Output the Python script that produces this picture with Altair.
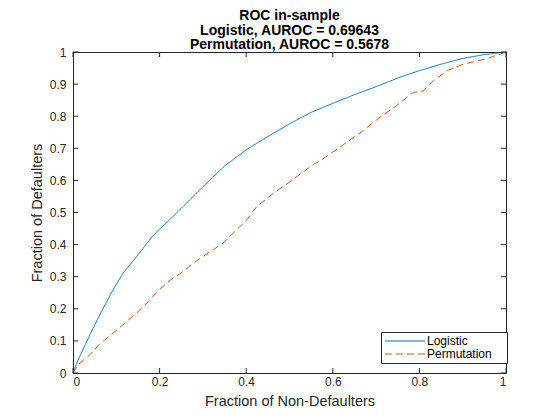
import altair as alt
import pandas as pd

# ---- data ----
series_names = ["Logistic", "Permutation"]
series_colors = ["#0072BD", "#D95319"]

logistic_x = [0, 0.01, 0.023, 0.0465, 0.07, 0.093, 0.115, 0.147, 0.186, 0.225, 0.25,
              0.3, 0.35, 0.4, 0.45, 0.5, 0.55, 0.6, 0.65, 0.7, 0.75, 0.8, 0.85, 0.9,
              0.95, 1.0]
logistic_y = [0, 0.035, 0.073, 0.14, 0.2025, 0.26, 0.31, 0.363, 0.43, 0.48, 0.513,
              0.58, 0.645, 0.695, 0.737, 0.776, 0.812, 0.84, 0.867, 0.892, 0.919, 0.942,
              0.962, 0.98, 0.992, 1.0]

perm_x = [0, 0.012, 0.039, 0.062, 0.089, 0.12, 0.147, 0.174, 0.2, 0.225, 0.248, 0.27,
          0.294, 0.324, 0.347, 0.37, 0.40, 0.424, 0.463, 0.50, 0.547, 0.578, 0.617,
          0.67, 0.709, 0.747, 0.786, 0.809, 0.832, 0.863, 0.901, 0.955, 1.0]
perm_y = [0, 0.026, 0.057, 0.091, 0.12, 0.156, 0.187, 0.223, 0.26, 0.29, 0.31, 0.333,
          0.358, 0.384, 0.405, 0.436, 0.475, 0.518, 0.56, 0.595, 0.642, 0.668, 0.704,
          0.755, 0.797, 0.833, 0.874, 0.879, 0.91, 0.941, 0.962, 0.979, 1.0]

x_ticks = [0, 0.2, 0.4, 0.6, 0.8, 1]
y_ticks = [0, 0.1, 0.2, 0.3, 0.4, 0.5, 0.6, 0.7, 0.8, 0.9, 1]

title_lines = ["ROC in-sample", "Logistic, AUROC = 0.69643", "Permutation, AUROC = 0.5678"]
x_title = "Fraction of Non-Defaulters"
y_title = "Fraction of Defaulters"

# ---- build table ----
rows = []
for i, (a, b) in enumerate(zip(logistic_x, logistic_y)):
    rows.append({"x": a, "y": b, "series": series_names[0], "i": i})
for i, (a, b) in enumerate(zip(perm_x, perm_y)):
    rows.append({"x": a, "y": b, "series": series_names[1], "i": i})
df = pd.DataFrame(rows)

W, H = 433, 321
FONT = "Liberation Sans"
AX = "#262626"
TICK = 5

x_scale = alt.Scale(domain=[0, 1], nice=False, zero=False)
y_scale = alt.Scale(domain=[0, 1], nice=False, zero=False)

x_axis = alt.Axis(values=x_ticks, format="~g", title=x_title, tickSize=0,
                  labelPadding=3, titlePadding=7, grid=False)
y_axis = alt.Axis(values=y_ticks, format="~g", title=y_title, tickSize=0,
                  labelPadding=7, titlePadding=5, grid=False)

legend_def = alt.Legend(
    title=None, orient="none", legendX=308, legendY=280,
    strokeColor=AX, fillColor="white", padding=3, cornerRadius=0,
    symbolType="M-1,0H7", symbolSize=100, symbolStrokeWidth=1,
    labelFont=FONT, labelFontSize=12, labelColor="black", labelOffset=31,
    labelExpr="datum.label + '\u2003\u200b'",
    rowPadding=1,
)

lines = alt.Chart(df).mark_line(strokeWidth=1).encode(
    x=alt.X("x:Q", scale=x_scale, axis=x_axis),
    y=alt.Y("y:Q", scale=y_scale, axis=y_axis),
    color=alt.Color("series:N", scale=alt.Scale(domain=series_names, range=series_colors),
                    legend=legend_def),
    strokeDash=alt.StrokeDash("series:N",
                              scale=alt.Scale(domain=series_names, range=[[1, 0], [7, 4]]),
                              legend=legend_def),
    order="i:Q",
)

xt = pd.DataFrame({"x": x_ticks})
yt = pd.DataFrame({"y": y_ticks})

tick_bottom = alt.Chart(xt).mark_rule(color=AX, strokeWidth=1).encode(
    x=alt.X("x:Q", scale=x_scale, axis=x_axis), y=alt.value(H), y2=alt.value(H - TICK))
tick_top = alt.Chart(xt).mark_rule(color=AX, strokeWidth=1).encode(
    x=alt.X("x:Q", scale=x_scale, axis=x_axis), y=alt.value(0), y2=alt.value(TICK))
tick_left = alt.Chart(yt).mark_rule(color=AX, strokeWidth=1).encode(
    y=alt.Y("y:Q", scale=y_scale, axis=y_axis), x=alt.value(0), x2=alt.value(TICK))
tick_right = alt.Chart(yt).mark_rule(color=AX, strokeWidth=1).encode(
    y=alt.Y("y:Q", scale=y_scale, axis=y_axis), x=alt.value(W), x2=alt.value(W - TICK))

chart = alt.layer(lines, tick_bottom, tick_top, tick_left, tick_right).properties(
    width=W, height=H, background="white",
    title=alt.TitleParams(text=title_lines, font=FONT, fontSize=14, fontWeight="bold",
                          color="black", lineHeight=14.6, anchor="middle", offset=0, dy=6.5),
    autosize=alt.AutoSizeParams(type="none"),
    padding={"left": 65, "top": 44, "right": 46, "bottom": 39},
).configure_view(
    stroke=AX, strokeWidth=1
).configure_axis(
    domainColor=AX, domainWidth=1, labelFont=FONT, labelFontSize=12, labelColor=AX,
    titleFont=FONT, titleFontSize=14.5, titleColor=AX, titleFontWeight="normal",
)

chart.save("out.html", embed_options={"renderer": "svg", "actions": False})
